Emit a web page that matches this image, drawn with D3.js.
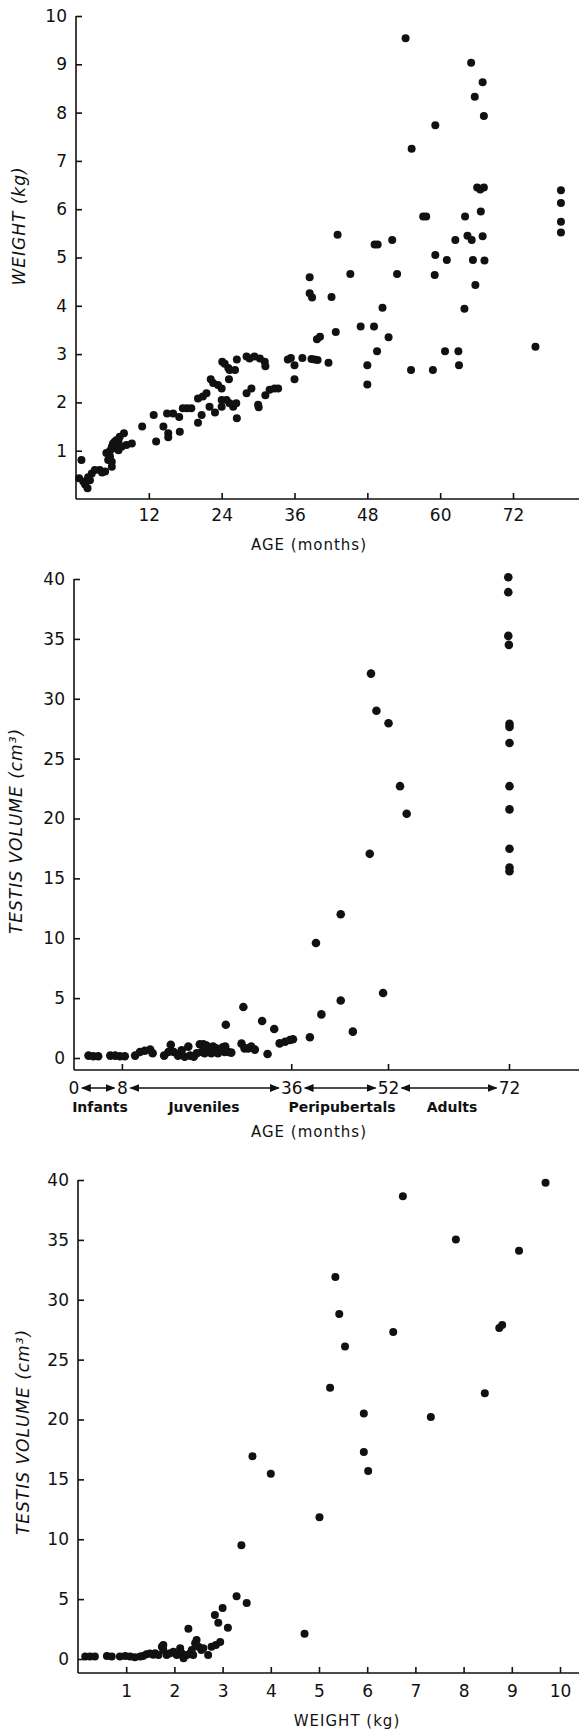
<!DOCTYPE html>
<html>
<head>
<meta charset="utf-8">
<script src="https://cdn.jsdelivr.net/npm/d3@7"></script>
<style>
  body { margin: 0; background: #fff; }
  svg { display: block; }
  .tick text { font-family: "DejaVu Sans", sans-serif; font-size: 17px; fill: #111; }
  .tick line { stroke: #111; stroke-width: 1.6; }
  .axis-line { stroke: #111; stroke-width: 1.6; }
  .ytitle { font-family: "DejaVu Sans", sans-serif; font-size: 17px; font-style: italic; letter-spacing: 1px; fill: #111; }
  .xtitle { font-family: "DejaVu Sans", sans-serif; font-size: 15px; letter-spacing: 1px; fill: #111; }
  .stage { font-family: "DejaVu Sans", sans-serif; font-size: 14px; font-weight: bold; fill: #111; }
  .dot { fill: #111; }
</style>
</head>
<body>
<div id="chart"></div>
<script>
// ---- Data ----

// Panel A: body weight (kg) against age (months)
const weightByAge = [
  [0.5,0.43],[1.2,0.36],[1.5,0.30],[1.9,0.22],[2.0,0.45],[2.3,0.39],[2.6,0.53],[3.1,0.60],
  [3.9,0.60],[4.3,0.55],[4.8,0.57],[5.0,0.95],[5.3,0.81],[5.6,0.88],[5.6,1.00],[5.9,1.08],
  [6.1,1.15],[6.4,1.19],[6.5,1.05],[6.7,1.22],[7.0,1.19],[7.2,1.29],[7.9,1.36],[5.9,0.77],
  [5.9,0.67],[7.0,1.01],[8.3,1.12],[9.2,1.15],[7.5,1.08],[0.9,0.81],
  [10.9,1.50],[12.8,1.74],[13.2,1.19],[14.4,1.50],[15.0,1.77],[16.0,1.77],[15.2,1.36],[15.2,1.28],
  [17.0,1.70],[17.1,1.39],[17.6,1.88],[18.3,1.88],[19.0,1.88],[20.1,1.58],[20.7,1.74],[20.1,2.08],
  [20.9,2.12],[21.5,2.19],[22.0,1.91],[22.2,2.48],[22.6,2.40],[23.4,2.36],[24.0,2.29],[22.9,1.79],
  [24.0,2.05],[24.0,1.91],[24.8,2.05],[25.3,1.98],[25.9,1.91],[26.4,1.98],[24.1,2.84],[24.5,2.80],
  [25.1,2.71],[25.3,2.67],[26.2,2.67],[25.2,2.48],[26.5,2.89],[26.5,1.67],[28.1,2.95],[28.6,2.91],
  [29.4,2.95],[30.3,2.91],[31.1,2.84],[31.2,2.75],[28.1,2.19],[28.9,2.29],[30.0,1.95],[30.1,1.90],
  [31.2,2.15],[31.9,2.26],[32.7,2.29],[33.3,2.29],[34.9,2.89],[35.4,2.92],[36.0,2.77],[36.0,2.48],
  [37.3,2.92],[38.8,2.90],[39.3,2.89],[39.8,2.88],[41.6,2.82],[48.0,2.77],[63.1,2.77],[55.2,2.67],
  [58.8,2.67],[48.0,2.37],[49.6,3.06],[60.8,3.06],[63.0,3.06],[75.7,3.15],[39.7,3.31],[40.2,3.36],
  [51.5,3.35],[42.8,3.46],[46.9,3.57],[49.1,3.57],[50.5,3.96],[64.0,3.94],[38.5,4.26],[38.9,4.17],
  [42.1,4.18],[65.8,4.43],[38.5,4.59],[45.2,4.66],[52.9,4.66],[59.1,4.64],[61.1,4.95],[65.4,4.95],
  [67.3,4.94],[59.2,5.05],[43.1,5.47],[49.2,5.27],[49.7,5.27],[52.1,5.36],[62.5,5.36],[64.5,5.45],
  [65.2,5.36],[67.0,5.44],[57.2,5.85],[57.7,5.85],[64.1,5.85],[66.7,5.95],[66.1,6.45],[66.6,6.41],
  [67.2,6.45],[79.9,6.39],[79.9,6.13],[79.9,5.74],[79.9,5.52],[55.3,7.25],[59.2,7.74],[67.2,7.93],
  [65.7,8.33],[67.0,8.63],[65.1,9.03],[54.3,9.54]
];
const ageTicksA = [12, 24, 36, 48, 60, 72];
const weightTicks = [1, 2, 3, 4, 5, 6, 7, 8, 9, 10];

// Panel B: testis volume (cm3) against age (months)
const volumeByAge = [
  [2.4,0.2],[3.2,0.15],[4.0,0.15],[6.0,0.2],[6.8,0.2],[7.6,0.15],[8.4,0.15],[10.1,0.2],
  [10.9,0.5],[11.7,0.6],[12.6,0.7],[13.0,0.4],[14.9,0.2],[15.6,0.5],[16.0,1.1],[16.5,0.5],
  [17.2,0.2],[17.8,0.65],[18.3,0.1],[18.9,0.95],[19.2,0.2],[19.8,0.1],[20.3,0.4],[20.8,1.15],
  [21.4,1.15],[21.9,1.05],[21.1,0.5],[21.6,0.4],[22.2,0.65],[22.7,0.4],[23.3,0.5],[23.8,0.4],
  [23.0,0.95],[23.5,0.8],[24.1,0.65],[24.6,0.9],[24.9,0.5],[25.5,0.5],[26.0,0.45],[25.0,0.95],
  [25.1,2.78],[27.7,1.2],[28.2,0.8],[28.8,0.8],[29.3,0.95],[29.9,0.7],[28.0,4.26],[31.1,3.09],
  [33.1,2.42],[32.0,0.33],[34.0,1.22],[34.9,1.36],[35.7,1.50],[36.2,1.56],[39.0,1.73],[40.0,9.6],
  [40.9,3.64],[44.1,12.0],[44.1,4.8],[46.1,2.2],[48.9,17.05],[49.1,32.1],[50.0,29.0],[51.1,5.43],
  [52.0,27.96],[53.9,22.7],[55.0,20.4],[71.8,40.15],[71.8,38.9],[71.8,35.25],[71.9,34.5],[72,27.9],
  [72,27.65],[72,26.3],[72,22.7],[72,20.76],[72,17.47],[72,15.9],[72,15.6]
];
const ageTicksB = [0, 8, 36, 52, 72];
const stageNames = ["Infants", "Juveniles", "Peripubertals", "Adults"];
const volumeTicks = [0, 5, 10, 15, 20, 25, 30, 35, 40];

// Panel C: testis volume (cm3) against body weight (kg)
const volumeByWeight = [
  [0.15,0.2],[0.25,0.2],[0.35,0.2],[0.60,0.25],[0.70,0.2],[0.87,0.2],[0.98,0.25],[1.08,0.2],
  [1.18,0.15],[1.29,0.2],[1.35,0.25],[1.42,0.4],[1.49,0.45],[1.56,0.35],[1.60,0.47],[1.67,0.33],
  [1.74,1.03],[1.77,0.75],[1.84,0.33],[1.91,0.47],[1.98,0.61],[2.05,0.33],[2.12,0.89],[2.15,0.47],
  [2.19,0.06],[2.26,0.33],[2.33,0.47],[2.36,0.75],[2.39,0.33],[1.77,1.17],[2.46,1.59],[2.43,1.31],
  [2.50,1.03],[2.56,0.75],[2.60,0.89],[2.70,0.33],[2.77,1.03],[2.86,1.17],[2.95,1.42],[2.29,2.53],
  [3.11,2.61],[2.91,3.03],[2.84,3.67],[3.00,4.26],[3.29,5.23],[3.50,4.67],[3.39,9.49],[3.62,16.94],
  [4.00,15.47],[4.70,2.11],[5.01,11.83],[5.93,17.28],[6.02,15.7],[5.93,20.5],[7.32,20.2],[8.44,22.2],
  [5.23,22.65],[5.54,26.1],[6.54,27.3],[8.74,27.65],[8.80,27.9],[5.42,28.8],[5.34,31.9],[9.15,34.1],
  [7.84,35.03],[6.74,38.65],[9.70,39.76]
];
const weightTicksC = [1, 2, 3, 4, 5, 6, 7, 8, 9, 10];

// ---- Page ----
const W = 579, H = 1729;
const svg = d3.select('#chart').append('svg')
  .attr('width', W).attr('height', H);

// draws one framed scatter panel
function drawPanel(cfg) {
  const g = svg.append('g');

  // axis lines (y runs down to the x axis, x runs to the page edge)
  g.append('line').attr('class', 'axis-line')
    .attr('x1', cfg.x.range()[0]).attr('x2', cfg.x.range()[0])
    .attr('y1', cfg.y.range()[1]).attr('y2', cfg.axisY);
  g.append('line').attr('class', 'axis-line')
    .attr('x1', cfg.x.range()[0]).attr('x2', W)
    .attr('y1', cfg.axisY).attr('y2', cfg.axisY);

  // y axis: ticks point inward
  g.append('g')
    .attr('transform', 'translate(' + cfg.x.range()[0] + ',0)')
    .call(d3.axisLeft(cfg.y).tickValues(cfg.yTicks).tickSize(-6).tickPadding(9))
    .call(a => a.select('.domain').remove());

  // x axis
  if (cfg.xTicks) {
    g.append('g')
      .attr('transform', 'translate(0,' + cfg.axisY + ')')
      .call(d3.axisBottom(cfg.x).tickValues(cfg.xTicks).tickSize(-6).tickPadding(cfg.xPad))
      .call(a => a.select('.domain').remove());
  }

  g.selectAll('.dot')
    .data(cfg.data)
    .join('circle')
    .attr('class', 'dot')
    .attr('cx', d => cfg.x(d[0]))
    .attr('cy', d => cfg.y(d[1]))
    .attr('r', cfg.r);

  g.append('text').attr('class', 'ytitle')
    .attr('text-anchor', 'middle')
    .attr('transform', 'translate(' + cfg.yTitle[0] + ',' + cfg.yTitle[1] + ') rotate(-90)')
    .attr('dy', '0.35em')
    .text(cfg.yLabel);

  g.append('text').attr('class', 'xtitle')
    .attr('text-anchor', 'middle')
    .attr('x', cfg.xTitle[0]).attr('y', cfg.xTitle[1])
    .attr('dy', '0.35em')
    .text(cfg.xLabel);

  return g;
}

// Panel A
const xA = d3.scaleLinear().domain([0, 72]).range([76, 513]);
const yA = d3.scaleLinear().domain([0, 10]).range([499, 16]);
drawPanel({
  data: weightByAge, x: xA, y: yA, axisY: 499,
  xTicks: ageTicksA, yTicks: weightTicks, xPad: 10, r: 4,
  yLabel: 'WEIGHT (kg)', yTitle: [19, 226],
  xLabel: 'AGE (months)', xTitle: [309, 545]
});

// Panel B
const xB = d3.scaleLinear().domain([0, 72]).range([74, 509.5]);
const yB = d3.scaleLinear().domain([0, 40]).range([1058, 579]);
const gB = drawPanel({
  data: volumeByAge, x: xB, y: yB, axisY: 1070,
  xTicks: null, yTicks: volumeTicks, r: 4.3,
  yLabel: 'TESTIS VOLUME (cm³)', yTitle: [16, 831],
  xLabel: 'AGE (months)', xTitle: [309, 1132]
});

// stage boundaries on the age axis: tick marks, numbers and double arrows
gB.selectAll('.stage-tick')
  .data(ageTicksB.filter(d => d > 0))
  .join('line')
  .attr('class', 'axis-line')
  .attr('x1', d => xB(d)).attr('x2', d => xB(d))
  .attr('y1', 1070).attr('y2', 1064);

gB.selectAll('.stage-num')
  .data(ageTicksB)
  .join('text')
  .attr('x', d => xB(d)).attr('y', 1088)
  .attr('dy', '0.35em')
  .attr('text-anchor', 'middle')
  .style('font-family', '"DejaVu Sans", sans-serif')
  .style('font-size', '17px')
  .style('fill', '#111')
  .text(d => d);

svg.append('defs').append('marker')
  .attr('id', 'arrow')
  .attr('viewBox', '0 0 10 10')
  .attr('refX', 9).attr('refY', 5)
  .attr('markerWidth', 7).attr('markerHeight', 7)
  .attr('orient', 'auto-start-reverse')
  .append('path').attr('d', 'M0,1L10,5L0,9Z').attr('fill', '#111');

const gap = d => (d >= 10 ? 13 : 8);
const spans = d3.pairs(ageTicksB);
gB.selectAll('.stage-arrow')
  .data(spans)
  .join('line')
  .attr('stroke', '#111').attr('stroke-width', 1.4)
  .attr('x1', d => xB(d[0]) + gap(d[0]))
  .attr('x2', d => xB(d[1]) - gap(d[1]))
  .attr('y1', 1088).attr('y2', 1088)
  .attr('marker-start', 'url(#arrow)')
  .attr('marker-end', 'url(#arrow)');

gB.selectAll('.stage-name')
  .data(spans)
  .join('text')
  .attr('class', 'stage')
  .attr('x', (d, i) => [100, 204, 342, 452][i])
  .attr('y', 1107)
  .attr('dy', '0.35em')
  .attr('text-anchor', 'middle')
  .text((d, i) => stageNames[i]);

// Panel C
const xC = d3.scaleLinear().domain([0, 10]).range([78, 560]);
const yC = d3.scaleLinear().domain([0, 40]).range([1659, 1180]);
drawPanel({
  data: volumeByWeight, x: xC, y: yC, axisY: 1673,
  xTicks: weightTicksC, yTicks: volumeTicks, xPad: 12, r: 4,
  yLabel: 'TESTIS VOLUME (cm³)', yTitle: [23, 1432],
  xLabel: 'WEIGHT (kg)', xTitle: [347, 1721]
});
</script>
</body>
</html>
